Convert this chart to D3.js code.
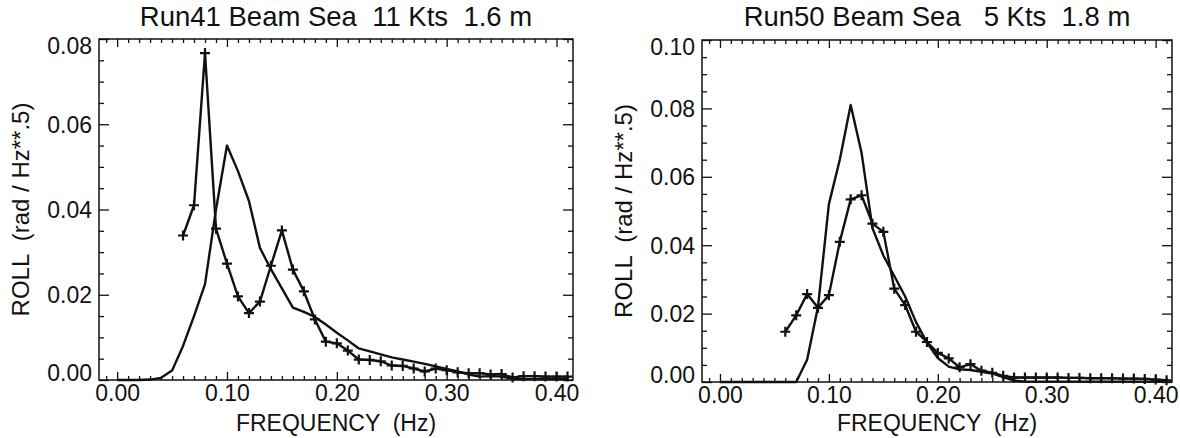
<!DOCTYPE html>
<html>
<head>
<meta charset="utf-8">
<script src="https://cdn.jsdelivr.net/npm/d3@7"></script>
<style>
  body { margin: 0; background: #fff; }
  svg text { font-family: "Liberation Sans", Arial, Helvetica, sans-serif; fill: #111; }
</style>
</head>
<body>
<svg id="chart" width="1180" height="438"></svg>
<script>
// frequencies (Hz)
const plusFreq = [0.06,0.07,0.08,0.09,0.10,0.11,0.12,0.13,0.14,0.15,0.16,0.17,0.18,0.19,0.20,0.21,0.22,0.23,
  0.24,0.25,0.26,0.27,0.28,0.29,0.30,0.31,0.32,0.33,0.34,0.35,0.36,0.37,0.38,0.39,0.40,0.41];
const solidFreq = [0.00,0.01,0.02,0.03,0.04,0.05,0.06,0.07,0.08,0.09,0.10,0.11,0.12,0.13,0.14,0.15,0.16,0.17,
  0.18,0.19,0.20,0.21,0.22,0.23,0.24,0.25,0.26,0.27,0.28,0.29,0.30,0.31,0.32,0.33,0.34,0.35,0.36,0.37,0.38,0.39,0.40,0.41];

// Run41 (rad / Hz**.5)
const run41Plus = [0.0339,0.0410,0.0767,0.0355,0.0273,0.0196,0.0157,0.0184,0.0268,0.0351,0.0259,0.0208,0.0142,
  0.0090,0.0086,0.0069,0.0048,0.0047,0.0044,0.0034,0.0033,0.0027,0.0020,0.0027,0.0023,0.0018,0.0016,0.0016,
  0.0013,0.0014,0.0006,0.0009,0.0009,0.0008,0.0008,0.0008];
const run41Solid = [0,0,0,0.0001,0.0005,0.0022,0.0080,0.0150,0.0225,0.0400,0.0550,0.0490,0.0420,0.0310,0.0260,
  0.0215,0.0170,0.0160,0.0148,0.0130,0.0111,0.0093,0.0074,0.0067,0.0060,0.0053,0.0048,0.0043,0.0038,0.0032,
  0.0026,0.0020,0.0013,0.0008,0.0009,0.0008,0.0003,0.0002,0.0002,0.0002,0.0002,0.0002];

// Run50
const run50Plus = [0.0147,0.0195,0.0257,0.0217,0.0254,0.0410,0.0534,0.0546,0.0463,0.0439,0.0273,0.0225,0.0147,
  0.0117,0.0085,0.0069,0.0043,0.0052,0.0033,0.0027,0.0018,0.0013,0.0013,0.0013,0.0013,0.0013,0.0012,0.0012,
  0.0011,0.0011,0.0011,0.0010,0.0010,0.0009,0.0007,0.0005];
const run50Solid = [0,0,0,0,0,0,0,0,0.0065,0.0220,0.0520,0.0650,0.0810,0.0670,0.0450,0.0370,0.0310,0.0250,
  0.0175,0.0115,0.0070,0.0045,0.0037,0.0035,0.0030,0.0025,0.0014,0.0004,0.0001,0.0001,0.0001,0.0001,0.0001,
  0.0001,0.0001,0.0001,0.0001,0.0001,0.0001,0.0001,0.0001,0.0001];

const titles = ["Run41 Beam Sea  11 Kts  1.6 m", "Run50 Beam Sea   5 Kts  1.8 m"];
const xMajor = [0.00,0.10,0.20,0.30,0.40];
const xMinor = [-0.01,0.01,0.02,0.03,0.04,0.05,0.06,0.07,0.08,0.09,0.11,0.12,0.13,0.14,0.15,0.16,0.17,0.18,0.19,
  0.21,0.22,0.23,0.24,0.25,0.26,0.27,0.28,0.29,0.31,0.32,0.33,0.34,0.35,0.36,0.37,0.38,0.39,0.41];
const yMajor41 = [0.00,0.02,0.04,0.06,0.08];
const yMajor50 = [0.00,0.02,0.04,0.06,0.08,0.10];

const panels = [
  { title: titles[0], plus: run41Plus, solid: run41Solid, yMax: 0.08, yMajor: yMajor41,
    left: 99, right: 573, top: 39, bottom: 380 },
  { title: titles[1], plus: run50Plus, solid: run50Solid, yMax: 0.10, yMajor: yMajor50,
    left: 702, right: 1172, top: 40, bottom: 382 }
];

const svg = d3.select("#chart");
const ink = "#111";

panels.forEach(p => {
  const x = d3.scaleLinear().domain([-0.0165, 0.415]).range([p.left, p.right]);
  const y = d3.scaleLinear().domain([0, p.yMax]).range([p.bottom, p.top]);
  const yMinor = d3.range(0, p.yMax + 1e-9, 0.005).filter(v => Math.abs(v / 0.02 - Math.round(v / 0.02)) > 1e-6);
  const g = svg.append("g");
  const cx = (p.left + p.right) / 2, cy = (p.top + p.bottom) / 2;

  // ticks, pointing inward on all four sides
  const addAxis = (axis, tx, ty, labels) => {
    const a = g.append("g").attr("transform", `translate(${tx},${ty})`).call(axis);
    a.select(".domain").remove();
    a.selectAll("line").attr("stroke", ink).attr("stroke-width", 1.3);
    a.selectAll("text").attr("font-size", 23).attr("fill", ink);
    if (!labels) a.selectAll("text").remove();
    return a;
  };
  const fmt = d3.format(".2f");
  addAxis(d3.axisBottom(x).tickValues(xMajor).tickSize(-8).tickPadding(5).tickFormat(fmt), 0, p.bottom, true);
  addAxis(d3.axisBottom(x).tickValues(xMinor).tickSize(-4).tickFormat(""), 0, p.bottom, false);
  addAxis(d3.axisTop(x).tickValues(xMajor).tickSize(-8).tickFormat(""), 0, p.top, false);
  addAxis(d3.axisTop(x).tickValues(xMinor).tickSize(-4).tickFormat(""), 0, p.top, false);
  const yl = addAxis(d3.axisLeft(y).tickValues(p.yMajor).tickSize(-10).tickPadding(7).tickFormat(fmt), p.left, 0, true);
  yl.selectAll("text").attr("dy", d => d === 0 ? "-0.0em" : (Math.abs(d - p.yMax) < 1e-9 ? "0.65em" : "0.34em"));
  addAxis(d3.axisLeft(y).tickValues(yMinor).tickSize(-5).tickFormat(""), p.left, 0, false);
  addAxis(d3.axisRight(y).tickValues(p.yMajor).tickSize(-10).tickFormat(""), p.right, 0, false);
  addAxis(d3.axisRight(y).tickValues(yMinor).tickSize(-5).tickFormat(""), p.right, 0, false);

  // frame
  g.append("rect").attr("x", p.left).attr("y", p.top)
    .attr("width", p.right - p.left).attr("height", p.bottom - p.top)
    .attr("fill", "none").attr("stroke", ink).attr("stroke-width", 1.5);

  // curves
  const line = d3.line().x(d => x(d[0])).y(d => y(d[1]));
  g.append("path").datum(solidFreq.map((f, i) => [f, p.solid[i]]))
    .attr("d", line).attr("fill", "none").attr("stroke", ink).attr("stroke-width", 2.4)
    .attr("stroke-linejoin", "round");
  const plusData = plusFreq.map((f, i) => [f, p.plus[i]]);
  g.append("path").datum(plusData)
    .attr("d", line).attr("fill", "none").attr("stroke", ink).attr("stroke-width", 2.4)
    .attr("stroke-linejoin", "round");
  g.append("g").selectAll("path").data(plusData).join("path")
    .attr("d", d => {
      const px = x(d[0]), py = y(d[1]), s = 5;
      return `M${px - s},${py}H${px + s}M${px},${py - s}V${py + s}`;
    })
    .attr("stroke", ink).attr("stroke-width", 2.2);

  // texts
  g.append("text").attr("x", cx).attr("y", 26).attr("text-anchor", "middle")
    .attr("font-size", 27.5).style("white-space", "pre").text(p.title);
  g.append("text").attr("x", cx).attr("y", 431).attr("text-anchor", "middle")
    .attr("font-size", 23).style("white-space", "pre").text("FREQUENCY  (Hz)");
  g.append("text").attr("transform", `translate(${p.left - 70},${cy}) rotate(-90)`)
    .attr("text-anchor", "middle").attr("font-size", 24).style("white-space", "pre")
    .text("ROLL  (rad / Hz**.5)");
});
</script>
</body>
</html>
